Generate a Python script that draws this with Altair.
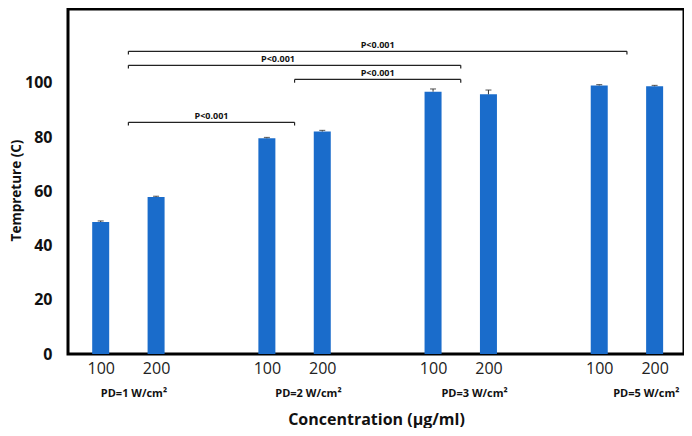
import altair as alt
import pandas as pd

# ---- data ----
bar_pos = [0, 1, 3, 4, 6, 7, 9, 10]
conc_labels = ["100", "200", "100", "200", "100", "200", "100", "200"]
temps = [48.7, 57.9, 79.6, 82.1, 96.8, 95.8, 99.1, 98.8]
errs = [0.4, 0.3, 0.3, 0.4, 1.0, 1.6, 0.3, 0.3]

group_labels = ["PD=1 W/cm²", "PD=2 W/cm²", "PD=3 W/cm²", "PD=5 W/cm²"]
group_label_x = [0.6, 3.75, 6.75, 9.85]

br_start = [0.5, 3.5, 0.5, 0.5]
br_end = [3.5, 6.5, 6.5, 9.5]
br_level = [85.5, 101.3, 106.5, 111.7]
br_text = ["P<0.001", "P<0.001", "P<0.001", "P<0.001"]
br_text_x = [2.0, 5.0, 3.2, 5.0]

FONT = "Open Sans"
BLUE = "#1a6ccb"

bars_df = pd.DataFrame({"pos": bar_pos, "conc": conc_labels, "temp": temps, "err": errs})
bars_df["top"] = bars_df["temp"] + bars_df["err"]

br_df = pd.DataFrame({"x1": br_start, "x2": br_end, "lvl": br_level,
                      "txt": br_text, "tx": br_text_x})
br_df["low"] = br_df["lvl"] - 1.2
br_ends = pd.concat([
    br_df[["x1", "lvl", "low"]].rename(columns={"x1": "x"}),
    br_df[["x2", "lvl", "low"]].rename(columns={"x2": "x"}),
])

grp_df = pd.DataFrame({"g": group_labels, "gx": group_label_x})

xscale = alt.Scale(domain=[-0.5, 10.44], nice=False, zero=False)
yscale = alt.Scale(domain=[0, 127.3], nice=False)

x_axis = alt.Axis(
    values=bar_pos,
    labelExpr="datum.value % 3 == 0 ? '100' : '200'",
    title="Concentration (µg/ml)",
    labelFont=FONT, labelFontSize=16, labelColor="#222", labelPadding=6,
    ticks=False, domain=False, grid=False,
    titleFont=FONT, titleFontSize=16, titleFontWeight="bold", titleColor="#111",
    titleY=73, titleBaseline="bottom",
)
y_axis = alt.Axis(
    values=[0, 20, 40, 60, 80, 100],
    title="Tempreture (C)",
    labelFont=FONT, labelFontSize=16, labelFontWeight="bold", labelColor="#111",
    labelPadding=16, ticks=False, domain=False, grid=False,
    titleFont=FONT, titleFontSize=13.5, titleFontWeight="bold", titleColor="#111",
    titleX=-52, titleY=181, titleAngle=-90, titleBaseline="middle",
)

base = alt.Chart(bars_df)

bars = base.mark_bar(size=17, color=BLUE).encode(
    x=alt.X("pos:Q", scale=xscale, axis=x_axis),
    y=alt.Y("temp:Q", scale=yscale, axis=y_axis),
)
err_rule = base.mark_rule(color="#333", strokeWidth=1).encode(
    x="pos:Q", y="temp:Q", y2="top:Q")
err_cap = base.mark_tick(color="#333", orient="horizontal", size=6, thickness=1.2).encode(
    x="pos:Q", y="top:Q")

br = alt.Chart(br_df)
br_lines = br.mark_rule(color="#222", strokeWidth=1.2).encode(
    x="x1:Q", x2="x2:Q", y="lvl:Q")
br_end_lines = alt.Chart(br_ends).mark_rule(color="#222", strokeWidth=1.2).encode(
    x="x:Q", y="lvl:Q", y2="low:Q")
br_labels = br.mark_text(font=FONT, fontSize=9, fontWeight="bold", color="#111",
                         baseline="bottom", dy=-1).encode(
    x="tx:Q", y="lvl:Q", text="txt:N")

grp = alt.Chart(grp_df).mark_text(font=FONT, fontSize=11, fontWeight="bold",
                                  color="#111", baseline="middle").encode(
    x="gx:Q", y=alt.value(385), text="g:N")

chart = alt.layer(bars, err_rule, err_cap, br_lines, br_end_lines, br_labels, grp).properties(
    width=616, height=345,
    padding={"left": 60, "top": 1, "right": 0, "bottom": 74},
    autosize=alt.AutoSizeParams(type="none"),
    background="white",
).configure_view(stroke="black", strokeWidth=3)

chart.save("out.html", embed_options={"renderer": "svg", "actions": False})
